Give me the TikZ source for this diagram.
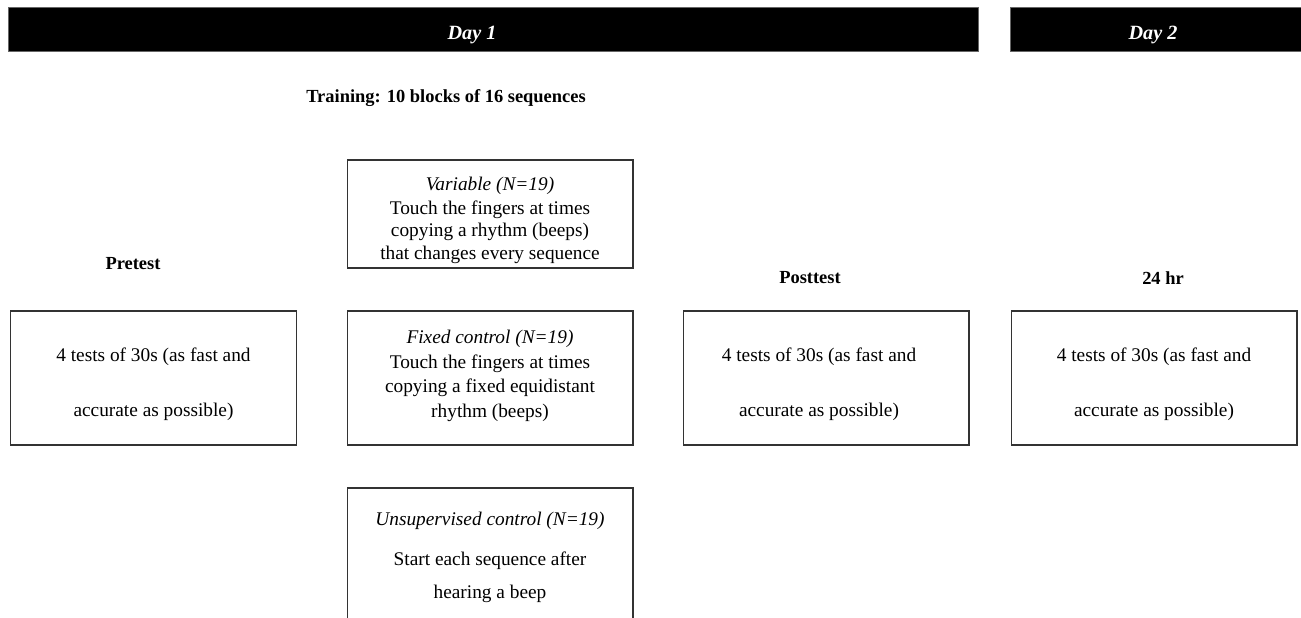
\documentclass[tikz,border=0pt]{standalone}
\usepackage{fontspec}
\setmainfont{Liberation Serif}
\usetikzlibrary{positioning}

\begin{document}
\begin{tikzpicture}[x=0.02cm,y=-0.02cm,
  daybar/.style={fill=black, draw=black!60, minimum height=0.88cm, inner sep=0pt},
  daylabel/.style={text=white, font=\fontsize{11.5}{13}\selectfont\bfseries\itshape},
  testbox/.style={draw=black!80, line width=0.6pt, minimum width=5.72cm, minimum height=2.68cm, inner sep=0pt},
  boxtext/.style={align=center, inner sep=0pt, font=\fontsize{11}{12.5}\selectfont},
  phase/.style={font=\fontsize{10.5}{13}\selectfont\bfseries}]
  \useasboundingbox (0,0) rectangle (1301,618);
  \clip (0,0) rectangle (1301,618);

  % day bars
  \node[daybar, minimum width=19.4cm] (day1) at (493,29) {};
  \node[daybar, minimum width=6.2cm] (day2) at (1165,29) {};
  \node[daylabel] (day1lab) at (472,35) {Day 1};
  \node[daylabel] (day2lab) at (1153,35) {Day 2};

  % headings
  \node[phase] (train) at (446,98) {Training: 10 blocks of 16 sequences};
  \node[phase] (pre) at (133,264) {Pretest};
  \node[phase] (post) at (810,278) {Posttest};
  \node[phase] (hr) at (1163,278) {24 hr};

  % tests
  \node[testbox] (pretest) at (153.5,378) {};
  \node[testbox] (posttest) at (826,378) {};
  \node[testbox] (hrtest) at (1154,378) {};
  \node[boxtext] at ([yshift=-0.12cm]pretest.center) {4 tests of 30s (as fast and\\[18.8pt] accurate as possible)};
  \node[boxtext] at ([xshift=-0.14cm,yshift=-0.12cm]posttest.center) {4 tests of 30s (as fast and\\[18.8pt] accurate as possible)};
  \node[boxtext] at ([yshift=-0.12cm]hrtest.center) {4 tests of 30s (as fast and\\[18.8pt] accurate as possible)};

  % training groups
  \node[testbox, minimum height=2.16cm] (variable) at (490,214) {};
  \node[testbox] (fixed) at (490,378) {};
  \node[testbox, minimum height=2.8cm] (unsup) at (490,558) {};
  \node[boxtext] at ([yshift=-0.13cm]variable.center)
    {\textit{Variable (N=19)}\\[1pt] Touch the fingers at times\\ copying a rhythm (beeps)\\[0.5pt] that changes every sequence};
  \node[boxtext] at ([yshift=0.04cm]fixed.center)
    {\textit{Fixed control (N=19)}\\[1.5pt] Touch the fingers at times\\[1.5pt] copying a fixed equidistant\\[1.5pt] rhythm (beeps)};
  \node[boxtext] at ([yshift=0.02cm]unsup.center)
    {\textit{Unsupervised control (N=19)}\\[10.3pt] Start each sequence after\\[6.3pt] hearing a beep};
\end{tikzpicture}
\end{document}
